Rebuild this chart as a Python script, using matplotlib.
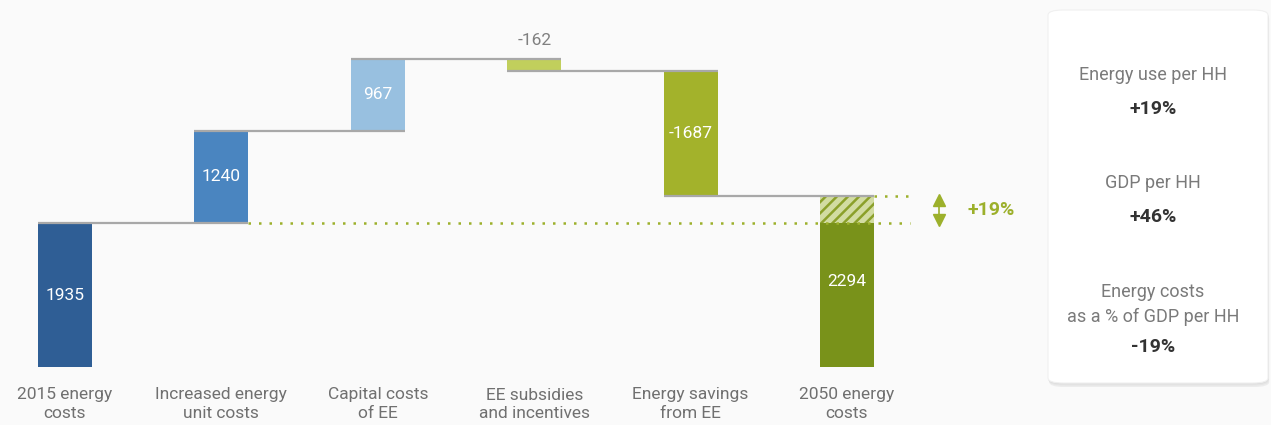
import matplotlib
matplotlib.use("Agg")
import matplotlib.pyplot as plt
from matplotlib.patches import FancyBboxPatch
import numpy as np

plt.rcParams['font.family'] = ['Roboto', 'DejaVu Sans']
plt.rcParams['hatch.linewidth'] = 1.8

categories = ["2015 energy\ncosts", "Increased energy\nunit costs", "Capital costs\nof EE",
              "EE subsidies\nand incentives", "Energy savings\nfrom EE", "2050 energy\ncosts"]
values = [1935, 1240, 967, -162, -1687, 2294]
bar_labels = ["1935", "1240", "967", "-162", "-1687", "2294"]
colors = ["#2f5e95", "#4a85c0", "#98c0e0", "#c1cf5c", "#a3b22b", "#79921a"]

panel_labels = ["Energy use per HH", "GDP per HH", "Energy costs\nas a % of GDP per HH"]
panel_values = ["+19%", "+46%", "-19%"]
change_label = "+19%"

BG = "#fafafa"
W, H = 1271, 425
fig = plt.figure(figsize=(W / 100, H / 100), dpi=100, facecolor=BG)
ax = fig.add_axes([0, 0, 1, 1])
ax.set_facecolor(BG)

# pixel-based calibration
px_per_x = 156.4
x0_px = 65
px_per_y = 144 / 1935
base_px = 367
ax.set_xlim(-x0_px / px_per_x, (W - x0_px) / px_per_x)
ax.set_ylim(-(H - base_px) / px_per_y, base_px / px_per_y)
ax.axis('off')

bw = 54 / px_per_x
x = np.arange(len(values))

bottoms = []
tops = []
cum = 0
for i, v in enumerate(values):
    if i == 0 or i == len(values) - 1:
        bottoms.append(0)
        tops.append(v)
        cum = v
    else:
        new = cum + v
        bottoms.append(min(cum, new))
        tops.append(max(cum, new))
        cum = new

for i in range(len(values)):
    if i == len(values) - 1:
        ax.bar(x[i], values[0], bottom=0, width=bw, color=colors[i], zorder=2)
        ax.bar(x[i], values[i] - values[0], bottom=values[0], width=bw,
               facecolor="#d2dca2", edgecolor="#8ba02a", hatch="///", linewidth=0, zorder=2)
    else:
        ax.bar(x[i], tops[i] - bottoms[i], bottom=bottoms[i], width=bw, color=colors[i], zorder=2)

# connector lines
running = []
cum = 0
for i, v in enumerate(values[:-1]):
    cum = v if i == 0 else cum + v
    running.append(cum)
for i, level in enumerate(running):
    ax.plot([x[i] - bw / 2, x[i + 1] + bw / 2], [level, level], color="#a8a8a8", lw=1.6,
            zorder=3, solid_capstyle='butt')

# dotted green reference lines
gcol = "#9cb02b"
xr = (910 - x0_px) / px_per_x
ax.plot([x[1] + bw / 2, xr], [values[0], values[0]], color=gcol, lw=1.8,
        linestyle=(0, (1, 3.2)), zorder=3)
ax.plot([x[5] + bw / 2, xr], [values[5], values[5]], color=gcol, lw=1.8,
        linestyle=(0, (1, 3.2)), zorder=3)

# double arrow
xa = (939 - x0_px) / px_per_x
ymid = (values[0] + values[5]) / 2
ax.plot([xa], [values[5] - 45], marker='^', markersize=9, color=gcol, zorder=4)
ax.plot([xa], [values[0] + 45], marker='v', markersize=9, color=gcol, zorder=4)
ax.plot([xa, xa], [values[0] + 60, values[5] - 60], color=gcol, lw=1.2, zorder=4)
ax.text((967 - x0_px) / px_per_x, ymid, change_label, color=gcol, fontsize=14,
        fontweight='bold', ha='left', va='center')

# value labels
for i in range(len(values)):
    if i == 3:
        ax.text(x[i], tops[i] + (18 / px_per_y), bar_labels[i], color="#808080",
                fontsize=12.5, ha='center', va='center')
    else:
        mid = (bottoms[i] + tops[i]) / 2
        ax.text(x[i], mid, bar_labels[i], color="white", fontsize=12.5,
                ha='center', va='center')

# category labels
for i, cat in enumerate(categories):
    for j, line in enumerate(cat.split("\n")):
        ax.text(x[i], -(395 + 19 * j - base_px) / px_per_y, line, color="#707070",
                fontsize=12.5, ha='center', va='center')

# right panel
def fx(px):
    return px / W

def fy(py):
    return 1 - py / H

for k, (off, col) in enumerate([(4, "#ececec"), (2.5, "#e4e4e4"), (1.2, "#dcdcdc")]):
    sh = FancyBboxPatch((fx(1048 + off * 0.3), fy(383 + off)), fx(220), fy(10) - fy(383),
                        boxstyle="round,pad=0,rounding_size=0.012", transform=fig.transFigure,
                        facecolor=col, edgecolor="none", zorder=0)
    fig.patches.append(sh)
panel = FancyBboxPatch((fx(1048), fy(383)), fx(220), fy(10) - fy(383),
                       boxstyle="round,pad=0,rounding_size=0.012", transform=fig.transFigure,
                       facecolor="#ffffff", edgecolor="#f0f0f0", lw=0.8, zorder=1)
fig.patches.append(panel)

cx = fx(1153)
label_y = [[75], [183], [292, 317]]
value_y = [109, 217, 347]
for lbl, ly, val, vy in zip(panel_labels, label_y, panel_values, value_y):
    for line, py in zip(lbl.split("\n"), ly):
        fig.text(cx, fy(py), line, color="#7a7a7a", fontsize=13,
                 ha='center', va='center')
    fig.text(cx, fy(vy), val, color="#333333", fontsize=14, fontweight='bold',
             ha='center', va='center')

fig.savefig("out.png", dpi=100, facecolor=BG)
